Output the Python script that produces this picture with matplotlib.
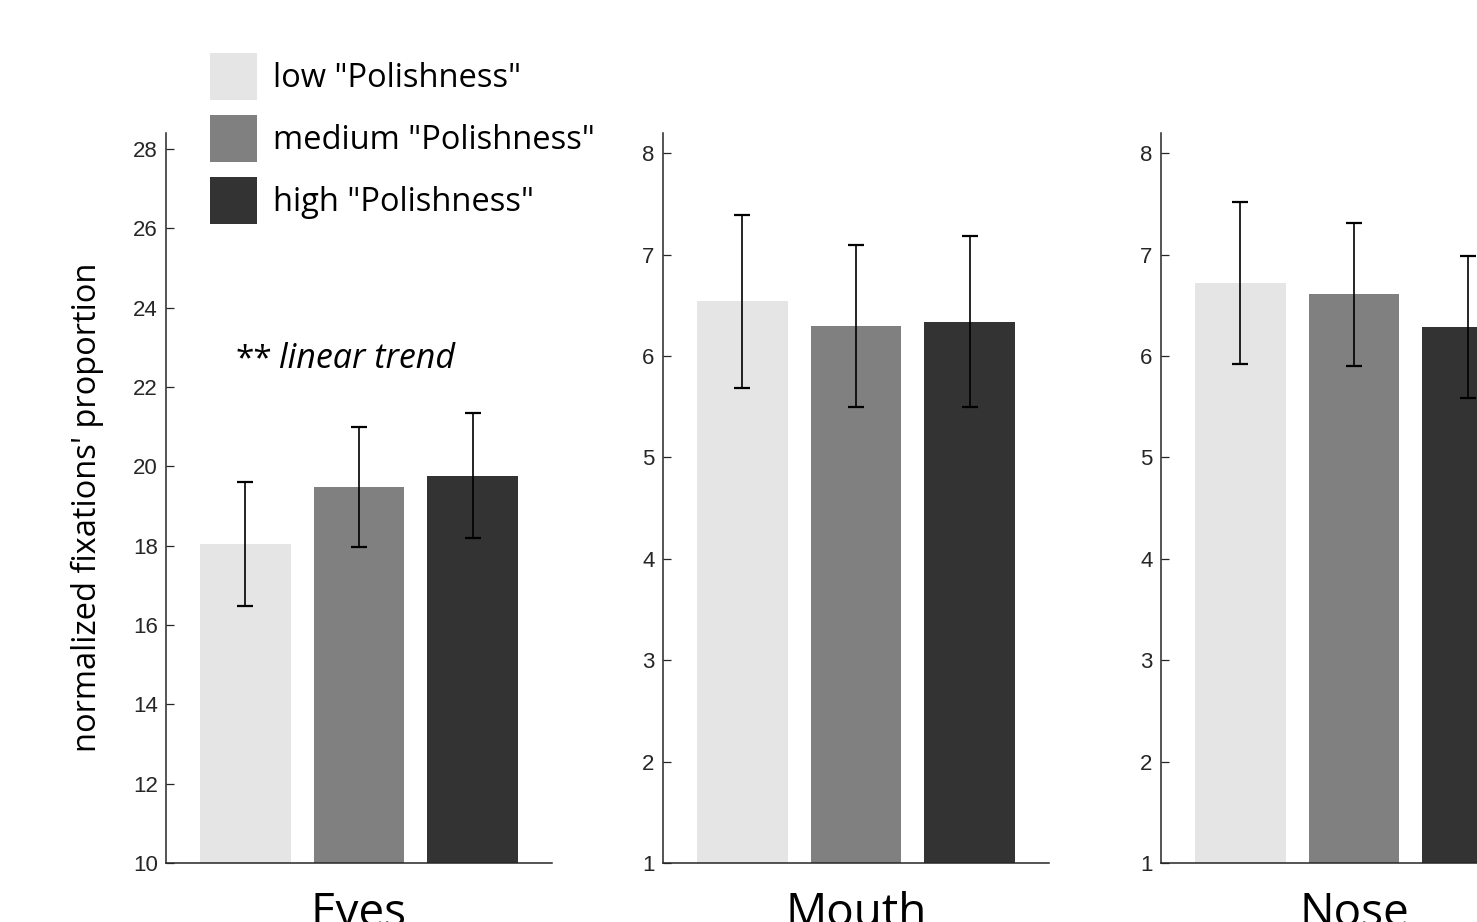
import matplotlib
matplotlib.use("Agg")
import matplotlib.pyplot as plt
from matplotlib.patches import Patch

# Regions of interest and "Polishness" levels
regions = ["Eyes", "Mouth", "Nose"]
levels = ['low "Polishness"', 'medium "Polishness"', 'high "Polishness"']

# Mean normalized fixation proportion per level, for each region
eyes_mean = [18.04, 19.48, 19.76]
mouth_mean = [6.54, 6.30, 6.34]
nose_mean = [6.72, 6.61, 6.29]

# Error bar half-widths
eyes_err = [1.57, 1.52, 1.57]
mouth_err = [0.855, 0.80, 0.84]
nose_err = [0.80, 0.705, 0.70]

# Axis ranges and ticks per region
eyes_ylim = (10, 28.4)
small_ylim = (1, 8.2)
eyes_ticks = list(range(10, 29, 2))
small_ticks = list(range(1, 9))

bar_colors = ["#e5e5e5", "#808080", "#333333"]
axis_color = "#262626"
text_font = ["Open Sans", "DejaVu Sans"]
tick_font = ["Liberation Sans", "DejaVu Sans"]

W, H = 1477, 922
fig = plt.figure(figsize=(W / 100, H / 100), dpi=100)

panel_left_px = [166, 663, 1161]
panel_width_px = 386
bottom_px, top_px = 863, 133

means = [eyes_mean, mouth_mean, nose_mean]
errs = [eyes_err, mouth_err, nose_err]
ylims = [eyes_ylim, small_ylim, small_ylim]
yticks = [eyes_ticks, small_ticks, small_ticks]

x = [1, 2, 3]
axes = []
for i, name in enumerate(regions):
    ax = fig.add_axes([panel_left_px[i] / W, 1 - bottom_px / H,
                       panel_width_px / W, (bottom_px - top_px) / H])
    ax.bar(x, means[i], width=0.8, color=bar_colors, zorder=1)
    ax.errorbar(x, means[i], yerr=errs[i], fmt="none", ecolor="black",
                elinewidth=1.2, capsize=5.6, capthick=1.6, zorder=2)
    ax.set_xlim(0.3, 3.7)
    ax.set_ylim(*ylims[i])
    ax.set_yticks(yticks[i])
    ax.set_xticks([])
    for side in ("top", "right"):
        ax.spines[side].set_visible(False)
    for side in ("left", "bottom"):
        ax.spines[side].set_color(axis_color)
        ax.spines[side].set_linewidth(1.1)
    ax.tick_params(axis="y", direction="in", length=6, width=0.9,
                   colors=axis_color, labelsize=16, pad=6)
    for lab in ax.get_yticklabels():
        lab.set_fontfamily(tick_font)
    ax.text(0.5, -0.039, name, transform=ax.transAxes, ha="center", va="top",
            fontsize=33, family=text_font, color="black")
    axes.append(ax)

# Significance note on the Eyes panel
note_tf = axes[0].get_yaxis_transform()
axes[0].text(0.179, 22.48, "**", ha="left", va="baseline", fontsize=24,
             family=text_font, color="black", transform=note_tf)
axes[0].text(0.294, 22.48, "linear trend", ha="left", va="baseline",
             fontsize=24.5, family=text_font, style="italic", color="black",
             transform=note_tf)

fig.text(87 / W, 1 - 507 / H, "normalized fixations' proportion", rotation=90,
         ha="center", va="center", fontsize=23.5, family=text_font, color="black")

handles = [Patch(facecolor=c, edgecolor="none") for c in bar_colors]
fig.legend(handles, levels, loc="upper left",
           bbox_to_anchor=(210 / W, 1 - 53 / H), frameon=False,
           prop={"family": text_font, "size": 23.5},
           handlelength=1.44, handleheight=1.84, handletextpad=0.5,
           labelspacing=0.46, borderpad=0, borderaxespad=0)

fig.savefig("out.png", dpi=100)
